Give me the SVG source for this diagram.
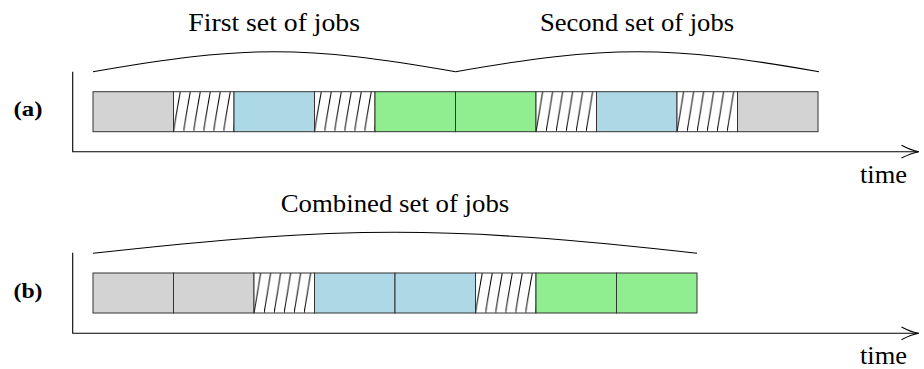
<svg xmlns="http://www.w3.org/2000/svg" width="924" height="369" viewBox="0 0 924 369">
<style>
  .box { stroke: #333; stroke-width: 1; }
  .gray { fill: #d3d3d3; }
  .blue { fill: #add8e6; }
  .green { fill: #90ee90; }
  .hatch { fill: url(#hatch); }
  .axis { fill: none; stroke: #000; stroke-width: 1.1; }
  .arc { fill: none; stroke: #000; stroke-width: 1.1; }
  .lbl { font-family: "Liberation Serif", "DejaVu Serif", serif; font-size: 25px; fill: #000; }
  .tag { font-family: "Liberation Serif", "DejaVu Serif", serif; font-size: 22px; font-weight: bold; fill: #000; }
</style>
<defs>
  <pattern id="hatch" patternUnits="objectBoundingBox" x="0" y="0" width="0.16529" height="1">
    <rect x="0" y="0" width="10" height="40" fill="#fff"/>
    <line x1="0" y1="40" x2="6.7" y2="0" stroke="#000" stroke-width="1"/>
  </pattern>
</defs>

<!-- labels -->
<text class="lbl" x="188.3" y="30.7" textLength="171.7" lengthAdjust="spacingAndGlyphs">First set of jobs</text>
<text class="lbl" x="540" y="30.7" textLength="194" lengthAdjust="spacingAndGlyphs">Second set of jobs</text>
<text class="lbl" x="280.7" y="212.3" textLength="228.6" lengthAdjust="spacingAndGlyphs">Combined set of jobs</text>
<text class="lbl" x="860" y="183" textLength="47" lengthAdjust="spacingAndGlyphs">time</text>
<text class="lbl" x="860" y="364.3" textLength="47" lengthAdjust="spacingAndGlyphs">time</text>
<text class="tag" x="13.5" y="116" textLength="29" lengthAdjust="spacingAndGlyphs">(a)</text>
<text class="tag" x="13.5" y="297.5" textLength="29" lengthAdjust="spacingAndGlyphs">(b)</text>

<!-- connectors: axes and braces -->
<g id="connectors">
  <path class="axis" d="M72.7,71.7 V151.7 H918.5"/>
  <path class="axis" d="M901.5,145.3 Q911,150.3 918.8,151.7 Q911,153.1 901.5,158.1"/>
  <path class="axis" d="M72.7,252.7 V333.3 H918.5"/>
  <path class="axis" d="M901.5,326.9 Q911,331.9 918.8,333.3 Q911,334.7 901.5,339.7"/>
  <path class="arc" d="M93,71.7 C244.3,45 304.4,45 455.7,71.7"/>
  <path class="arc" d="M455.7,71.7 C607,45 667.7,45 819,71.7"/>
  <path class="arc" d="M93,253.3 C344,225.3 446,225.3 697,253.3"/>
</g>

<!-- row (a) -->
<g id="a1"><rect class="box gray" x="93" y="91.7" width="80.5" height="40"/></g>
<g id="a2"><rect class="box hatch" x="173.5" y="91.7" width="60.5" height="40"/></g>
<g id="a3"><rect class="box blue" x="234" y="91.7" width="80.5" height="40"/></g>
<g id="a4"><rect class="box hatch" x="314.5" y="91.7" width="60.5" height="40"/></g>
<g id="a5"><rect class="box green" x="375" y="91.7" width="80.5" height="40"/></g>
<g id="a6"><rect class="box green" x="455.5" y="91.7" width="80.5" height="40"/></g>
<g id="a7"><rect class="box hatch" x="536" y="91.7" width="60.5" height="40"/></g>
<g id="a8"><rect class="box blue" x="596.5" y="91.7" width="80.5" height="40"/></g>
<g id="a9"><rect class="box hatch" x="677" y="91.7" width="60.5" height="40"/></g>
<g id="a10"><rect class="box gray" x="737.5" y="91.7" width="80.5" height="40"/></g>

<!-- row (b) -->
<g id="b1"><rect class="box gray" x="93" y="273" width="80.5" height="40"/></g>
<g id="b2"><rect class="box gray" x="173.5" y="273" width="80.5" height="40"/></g>
<g id="b3"><rect class="box hatch" x="254" y="273" width="60.5" height="40"/></g>
<g id="b4"><rect class="box blue" x="314.5" y="273" width="80.5" height="40"/></g>
<g id="b5"><rect class="box blue" x="395" y="273" width="80.5" height="40"/></g>
<g id="b6"><rect class="box hatch" x="475.5" y="273" width="60.5" height="40"/></g>
<g id="b7"><rect class="box green" x="536" y="273" width="80.5" height="40"/></g>
<g id="b8"><rect class="box green" x="616.5" y="273" width="80.5" height="40"/></g>
</svg>
